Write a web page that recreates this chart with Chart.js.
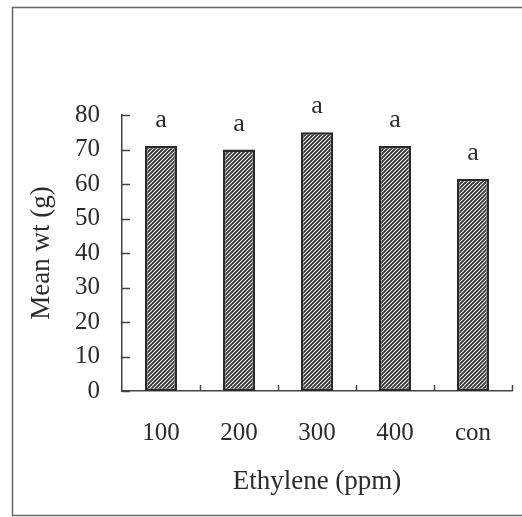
<!DOCTYPE html>
<html>
<head>
<meta charset="utf-8">
<script src="https://cdn.jsdelivr.net/npm/chart.js@4.4.1/dist/chart.umd.min.js"></script>
<style>
  html, body { margin: 0; padding: 0; background: #ffffff; }
  #c { display: block; }
</style>
</head>
<body>
<canvas id="c" width="522" height="517"></canvas>
<script>
// ---- data ----
const categories = ['100', '200', '300', '400', 'con'];
const meanWeight = [71, 70, 75, 71, 61.5];
const groupLetters = ['a', 'a', 'a', 'a', 'a'];
const yTicks = [0, 10, 20, 30, 40, 50, 60, 70, 80];
const xTitle = 'Ethylene (ppm)';
const yTitle = 'Mean wt (g)';

const FONT = "'Liberation Serif', 'Times New Roman', serif";
const INK = '#2b2b2b';

function hatchPattern() {
  const s = 4;
  const p = document.createElement('canvas');
  p.width = s; p.height = s;
  const g = p.getContext('2d');
  g.fillStyle = '#ffffff';
  g.fillRect(0, 0, s, s);
  g.strokeStyle = '#2e2e2e';
  g.lineWidth = 1.8;
  g.beginPath();
  g.moveTo(-1, s + 1); g.lineTo(s + 1, -1);
  g.moveTo(-1, 1); g.lineTo(1, -1);
  g.moveTo(s - 1, s + 1); g.lineTo(s + 1, s - 1);
  g.stroke();
  return g.createPattern(p, 'repeat');
}

const decor = {
  id: 'decor',
  beforeDraw(chart) {
    const ctx = chart.ctx;
    ctx.save();
    ctx.fillStyle = '#ffffff';
    ctx.fillRect(0, 0, chart.width, chart.height);
    // outer frame
    ctx.strokeStyle = '#666666';
    ctx.lineWidth = 1.5;
    ctx.beginPath();
    ctx.moveTo(chart.width + 5, 7.5);
    ctx.lineTo(12.5, 7.5);
    ctx.lineTo(12.5, 515.5);
    ctx.lineTo(chart.width + 5, 515.5);
    ctx.stroke();
    ctx.restore();
  },
  afterDraw(chart) {
    const ctx = chart.ctx;
    const xs = chart.scales.x, ys = chart.scales.y;
    const ca = chart.chartArea;
    ctx.save();
    ctx.strokeStyle = '#444444';
    ctx.lineWidth = 1.5;
    ctx.beginPath();
    // inward y ticks
    yTicks.forEach(v => {
      const y = Math.round(ys.getPixelForValue(v)) + 0.5;
      ctx.moveTo(ca.left, y);
      ctx.lineTo(ca.left + 8, y);
    });
    // inward x ticks at category boundaries
    for (let i = 1; i <= categories.length; i++) {
      const x = (xs.getPixelForValue(i - 1) + (i < categories.length ? xs.getPixelForValue(i) : 2 * xs.getPixelForValue(i - 1) - xs.getPixelForValue(i - 2))) / 2;
      ctx.moveTo(Math.round(x) + 0.5, ca.bottom);
      ctx.lineTo(Math.round(x) + 0.5, ca.bottom - 6);
    }
    ctx.stroke();
    // letters above bars
    const meta = chart.getDatasetMeta(0);
    ctx.fillStyle = INK;
    ctx.font = "26px " + FONT;
    ctx.textAlign = 'center';
    ctx.textBaseline = 'alphabetic';
    meta.data.forEach((bar, i) => {
      ctx.fillText(groupLetters[i], bar.x, bar.y - 19);
    });
    ctx.restore();
  }
};

new Chart(document.getElementById('c'), {
  type: 'bar',
  data: {
    labels: categories,
    datasets: [{
      data: meanWeight,
      backgroundColor: hatchPattern(),
      borderColor: '#2a2a2a',
      borderWidth: 2.5,
      borderSkipped: false,
      barPercentage: 0.41,
      categoryPercentage: 1.0
    }]
  },
  options: {
    responsive: false,
    animation: false,
    devicePixelRatio: 1,
    layout: { padding: { left: 0, right: 10, top: 115, bottom: 0 } },
    plugins: { legend: { display: false }, tooltip: { enabled: false } },
    scales: {
      x: {
        grid: { display: false, drawTicks: false },
        border: { display: true, color: '#444444', width: 1.5 },
        ticks: { color: INK, font: { family: FONT, size: 25 }, padding: 27 },
        title: { display: true, text: xTitle, color: INK, font: { family: FONT, size: 27 }, padding: { top: 19, bottom: 19 } },
        afterFit(s) { s.height = 126; }
      },
      y: {
        min: 0, max: 80,
        grid: { display: false, drawTicks: false },
        border: { display: true, color: '#444444', width: 1.5 },
        ticks: {
          stepSize: 10, color: INK, font: { family: FONT, size: 25 }, padding: 22,
          callback: (v) => yTicks.includes(v) ? String(v) : ''
        },
        title: { display: true, text: yTitle, color: INK, font: { family: FONT, size: 27 }, padding: { top: 26, bottom: 26 } },
        afterFit(s) { s.width = 122; }
      }
    }
  },
  plugins: [decor]
});
</script>
</body>
</html>
